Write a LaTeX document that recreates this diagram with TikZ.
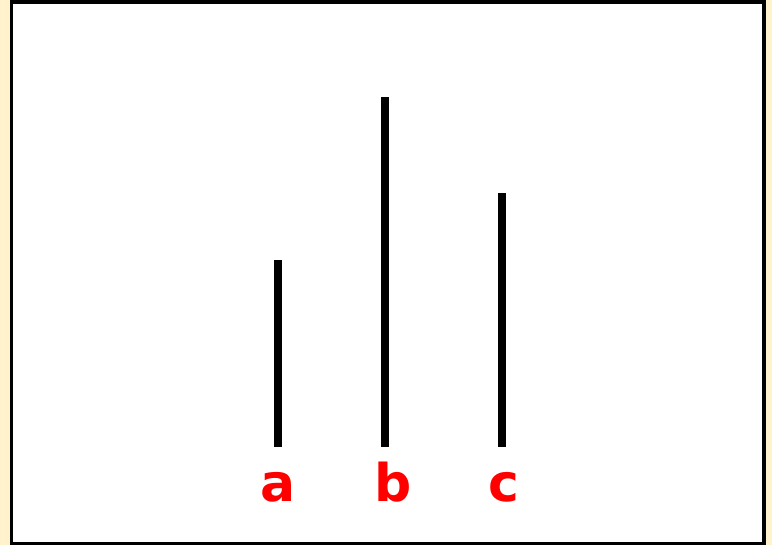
\documentclass[tikz,border=0pt]{standalone}
\usepackage{fontspec}
\newfontfamily\labfont{DejaVu Sans}
\definecolor{cream}{HTML}{FFF2CC}
\definecolor{labred}{HTML}{FF0000}
\tikzset{
  stick/.style={line width=7.5pt, black},
  lab/.style={text=labred, font=\labfont\bfseries\fontsize{52}{52}\selectfont, inner sep=0pt, anchor=base}
}
\begin{document}
\begin{tikzpicture}[x=1pt,y=-1pt]
\useasboundingbox (0,0) rectangle (772,545);
\fill[cream] (0,0) rectangle (772,545);
\draw[fill=white, line width=3.5pt] (11.5,2) rectangle (764,543.5);
\coordinate (abot) at (278,447);
\coordinate (atop) at (278,260);
\coordinate (bbot) at (385,447);
\coordinate (btop) at (385,97);
\coordinate (cbot) at (502,447);
\coordinate (ctop) at (502,193);
\draw[stick] (abot) -- (atop);
\draw[stick] (bbot) -- (btop);
\draw[stick] (cbot) -- (ctop);
\node[lab] (la) at (278,501) {a};
\node[lab] (lb) at (393,501) {b};
\node[lab] (lc) at (504,501) {c};
\end{tikzpicture}
\end{document}
